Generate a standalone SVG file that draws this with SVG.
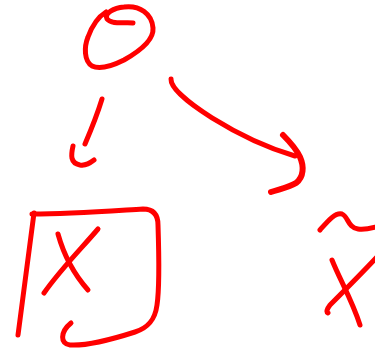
<svg xmlns="http://www.w3.org/2000/svg" width="375" height="352" viewBox="0 0 375 352">
<style>
.s{fill:none;stroke:#ff0000;stroke-width:5;stroke-linecap:round;stroke-linejoin:round}
.t{stroke-width:6}
</style>
<rect width="375" height="352" fill="#ffffff"/>
<g id="node-circle">
<path class="s" d="M133,23 C124,22 112,25 107,19 C104,13 114,8 124,7 C140,5 152,14 153,28 C154,40 140,51 124,60 C112,66 100,70 92,66 C84,61 84,47 88,37 C92,26 98,17 106,12"/>
</g>
<g id="connectors">
<path class="s" d="M102,99 C98,112 91,130 85,144"/>
<path class="s" d="M73,146 C71,155 70,163 80,165 C86,166 90,163 94,160"/>
<path class="s" d="M171,79 C170,96 240,140 295,156"/>
<path class="s t" d="M283,135 C290,142 296,148 300,157 C304,166 304,177 296,183 C290,187 280,189 271,192"/>
</g>
<g id="node-box">
<path class="s" d="M34,213 L18,335"/>
<path class="s" d="M32,214 C70,214 110,211 143,209 C153,209 158,214 158,225 C159,255 160,285 157,305 C155,320 148,328 135,332 C110,340 85,346 70,345 C60,344 60,332 71,323"/>
<path class="s" d="M58,234 C63,252 72,272 88,290"/>
<path class="s" d="M98,229 C80,250 60,270 44,293"/>
</g>
<g id="node-xtilde">
<path class="s" d="M320,230 C327,222 335,212 342,214 C348,216 348,228 358,229 C365,230 372,228 376,227"/>
<path class="s" d="M332,260 C340,280 352,300 360,325"/>
<path class="s" d="M376,258 C360,275 345,290 330,305 C327,309 326,312 328,313"/>
</g>
</svg>
